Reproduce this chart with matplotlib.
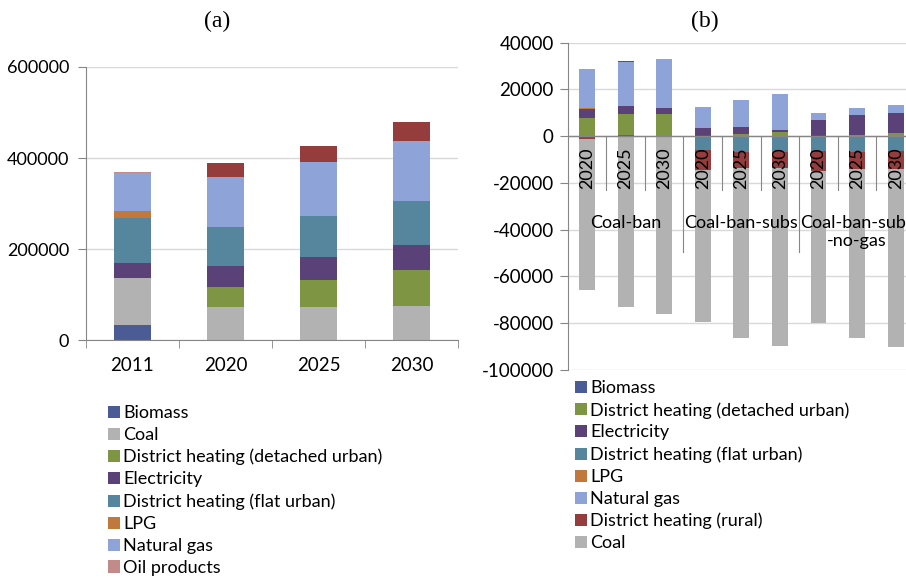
import numpy as np
import matplotlib
matplotlib.use("Agg")
import matplotlib.pyplot as plt
from matplotlib.patches import Patch

plt.rcParams["font.family"] = ["Lato", "DejaVu Sans"]
plt.rcParams["axes.unicode_minus"] = False

#######################################################
# DATA
#######################################################

# (a) heating energy by carrier
years_a = ["2011", "2020", "2025", "2030"]
biomass_a = [33000, 0, 0, 0]
coal_a = [102700, 71900, 71900, 74800]
dh_detached_a = [0, 45500, 60100, 79200]
electricity_a = [32900, 45400, 49900, 55000]
dh_flat_a = [100600, 86600, 91000, 96900]
lpg_a = [13900, 0, 0, 0]
natural_gas_a = [83600, 107800, 117300, 132000]
oil_a = [1500, 0, 0, 0]
dh_rural_a = [0, 31600, 35200, 41800]

# (b) change against baseline, per scenario and year
scenarios_b = ["Coal-ban", "Coal-ban-subs", "Coal-ban-subs\n-no-gas"]
years_b = ["2020", "2025", "2030"]
biomass_b = [0, 400, 0, 0, 0, 0, 0, 0, 0]
dh_detached_b = [8000, 9000, 9700, 0, 1000, 2000, 0, 500, 1400]
electricity_b = [3700, 3500, 2400, 3700, 3100, 700, 7100, 8600, 8700]
dh_flat_b = [0, 0, 0, -6100, -6700, -6700, -6300, -6600, -6300]
lpg_b = [400, 0, 0, 0, 0, 0, 0, 0, 0]
natural_gas_b = [16500, 18800, 20900, 8600, 11200, 15200, 2800, 2800, 3300]
dh_rural_b = [-1000, 600, 0, -8200, -6700, -6700, -8700, -7400, -7600]
coal_b = [-65000, -73100, -76200, -65200, -72800, -76400, -65000, -72500, -76300]

COLORS = {
    "Biomass": "#4A5B96",
    "Coal": "#B2B2B2",
    "District heating (detached urban)": "#7E9643",
    "Electricity": "#5A4178",
    "District heating (flat urban)": "#55869E",
    "LPG": "#C0793A",
    "Natural gas": "#8EA4D9",
    "Oil products": "#C28B8A",
    "District heating (rural)": "#953D3D",
}
AXIS_GRAY = "#868686"
GRID_GRAY = "#D9D9D9"


def stacked_bars(ax, x, series, width):
    # Excel style: positives stack up, negatives stack down from zero
    pos = np.zeros(len(x))
    neg = np.zeros(len(x))
    for name, vals in series:
        vals = np.asarray(vals, dtype=float)
        up = np.where(vals > 0, vals, 0)
        down = np.where(vals < 0, vals, 0)
        ax.bar(x, up, width, bottom=pos, color=COLORS[name], zorder=2)
        ax.bar(x, down, width, bottom=neg, color=COLORS[name], zorder=2)
        pos += up
        neg += down


def style_axes(ax, labelsize):
    for side in ["top", "right"]:
        ax.spines[side].set_visible(False)
    ax.spines["left"].set_color(AXIS_GRAY)
    ax.spines["bottom"].set_color(AXIS_GRAY)
    ax.yaxis.grid(True, color=GRID_GRAY, linewidth=1)
    ax.set_axisbelow(True)
    ax.tick_params(axis="y", direction="out", length=6, color=AXIS_GRAY,
                   labelsize=labelsize, pad=6)


def add_legend(names, x_px, y_px):
    fig.legend(handles=[Patch(facecolor=COLORS[n]) for n in names],
               labels=names, loc="upper left",
               bbox_to_anchor=(x_px / 906, 1 - y_px / 577), frameon=False,
               fontsize=13, handlelength=0.65, handleheight=0.65,
               handletextpad=0.2, labelspacing=0.33, borderpad=0,
               borderaxespad=0)


fig = plt.figure(figsize=(9.06, 5.77), dpi=100)

#######################################################
# (a)
#######################################################

ax_a = fig.add_axes([0.0949, 0.4107, 0.4106, 0.4732])
xa = np.arange(len(years_a))
series_a = [
    ("Biomass", biomass_a),
    ("Coal", coal_a),
    ("District heating (detached urban)", dh_detached_a),
    ("Electricity", electricity_a),
    ("District heating (flat urban)", dh_flat_a),
    ("LPG", lpg_a),
    ("Natural gas", natural_gas_a),
    ("Oil products", oil_a),
    ("District heating (rural)", dh_rural_a),
]
stacked_bars(ax_a, xa, series_a, 0.4)
ax_a.set_xlim(-0.5, len(years_a) - 0.5)
ax_a.set_ylim(0, 600000)
ax_a.set_yticks([0, 200000, 400000, 600000])
style_axes(ax_a, 13)
ax_a.set_xticks(xa)
ax_a.set_xticklabels(years_a, fontsize=13.5)
ax_a.tick_params(axis="x", length=0, pad=12)
ax_a.set_xticks(np.arange(len(years_a) + 1) - 0.5, minor=True)
ax_a.tick_params(axis="x", which="minor", length=6, color=AXIS_GRAY)
fig.text(217 / 906, 1 - 21 / 577, "(a)", ha="center", va="center",
         fontsize=17, family="Liberation Serif")

# the reference legend lists only the first eight carriers
add_legend([n for n, _ in series_a[:8]], 108, 405)

#######################################################
# (b)
#######################################################

ax_b = fig.add_axes([0.6266, 0.3588, 0.3834, 0.5672])
xb = np.arange(len(scenarios_b) * len(years_b))
series_b = [
    ("Biomass", biomass_b),
    ("District heating (detached urban)", dh_detached_b),
    ("Electricity", electricity_b),
    ("District heating (flat urban)", dh_flat_b),
    ("LPG", lpg_b),
    ("Natural gas", natural_gas_b),
    ("District heating (rural)", dh_rural_b),
    ("Coal", coal_b),
]
stacked_bars(ax_b, xb, series_b, 0.41)
ax_b.set_xlim(-0.5, len(xb) - 0.5)
ax_b.set_ylim(-100000, 40000)
ax_b.set_yticks(np.arange(-100000, 40001, 20000))
style_axes(ax_b, 13.5)
ax_b.tick_params(axis="y", pad=4)
ax_b.spines["bottom"].set_visible(False)
ax_b.set_xticks([])

# category axis drawn at zero, labels over the bars as in Excel
ax_b.axhline(0, color=AXIS_GRAY, linewidth=1, zorder=3)
for i in range(1, len(xb)):
    bottom = -49500 if i % len(years_b) == 0 else -23100
    ax_b.plot([i - 0.5, i - 0.5], [0, bottom], color=AXIS_GRAY,
              linewidth=0.8, zorder=3)
for i, x in enumerate(xb):
    ax_b.text(x, -13700, years_b[i % len(years_b)], rotation=90,
              ha="center", va="center", fontsize=13, zorder=4)
for g, name in enumerate(scenarios_b):
    ax_b.text(g * len(years_b) + 1, -33800, name, ha="center", va="top",
              fontsize=13, linespacing=1.15, zorder=4)
fig.text(705 / 906, 1 - 21 / 577, "(b)", ha="center", va="center",
         fontsize=17, family="Liberation Serif")

add_legend([n for n, _ in series_b], 575, 380)

plt.savefig("out.png", dpi=100)
plt.close()
